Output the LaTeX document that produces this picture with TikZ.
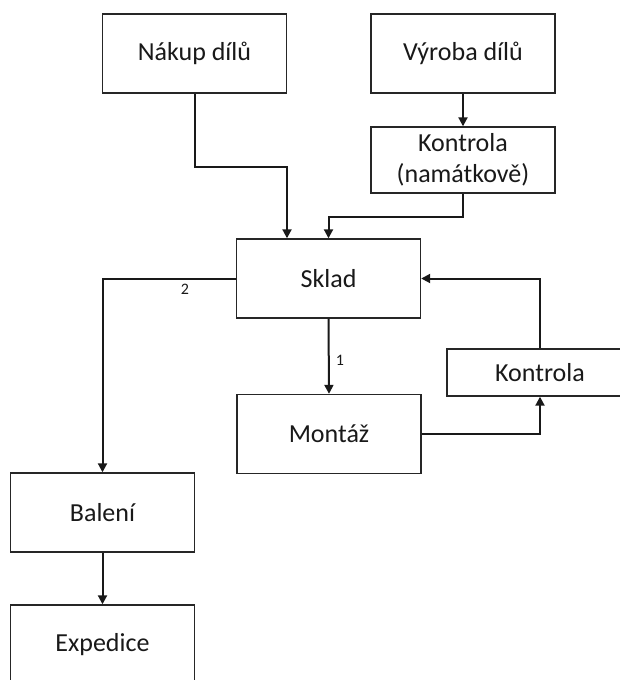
\documentclass[tikz,border=0pt]{standalone}
\usepackage{fontspec}
\setmainfont{Carlito}
\usetikzlibrary{arrows.meta,calc}
\begin{document}
\begin{tikzpicture}[x=1pt,y=-1pt,
  box/.style={draw=black!85,line width=1.4pt,fill=white,minimum width=184pt,
    minimum height=79pt,inner sep=0pt,align=center,text=black!90,
    font=\fontsize{26}{31}\selectfont},
  flow/.style={draw=black!90,line width=2pt,
    -{Triangle[length=9pt,width=9pt]}},
  lbl/.style={font=\fontsize{16}{18}\selectfont,text=black!90,inner sep=0pt}]
\useasboundingbox (0,0) rectangle (620,680);
\clip (0,0) rectangle (620,680);
\fill[white] (0,0) rectangle (620,680);

% process steps
\node[box] (nakup) at (194.5,53.5) {Nákup dílů};
\node[box] (vyroba) at (463,53.5) {Výroba dílů};
\node[box,minimum height=66pt] (kontrolaA) at (463,160) {Kontrola\\(namátkově)};
\node[box] (sklad) at (328.5,278.5) {Sklad};
\node[box] (montaz) at (329,434) {Montáž};
\node[box,minimum width=186pt,minimum height=47pt] (kontrolaB) at (540,372.5) {Kontrola};
\node[box] (baleni) at (102.5,512.5) {Balení};
\node[box] (expedice) at (102.5,644.5) {Expedice};

% flows
\draw[flow] (nakup.south) -- ++(0,73) -| ([xshift=-41.5pt]sklad.north);
\draw[flow] (vyroba.south) -- (kontrolaA.north);
\draw[flow] (kontrolaA.south) -- ++(0,23) -| (sklad.north);
\draw[flow] (sklad.south) -- (montaz.north);
\draw[flow] (sklad.west) -| (baleni.north);
\draw[flow] (montaz.east) -| (kontrolaB.south);
\draw[flow] (kontrolaB.north) |- (sklad.east);
\draw[flow] (baleni.south) -- (expedice.north);

% branch numbers
\node[lbl] (n1) at (340,360) {1};
\node[lbl] (n2) at (185,289) {2};
\end{tikzpicture}
\end{document}
